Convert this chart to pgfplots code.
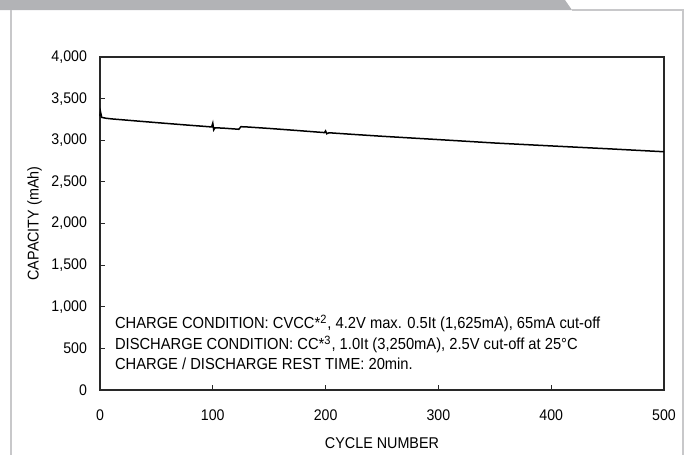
\documentclass[border=0pt]{standalone}
\usepackage{pgfplots}
\pgfplotsset{compat=1.18}
\usepackage{fontspec}
\setmainfont{Liberation Sans}[FakeStretch=0.92]
\definecolor{tabgray}{RGB}{178,179,182}
\definecolor{framegray}{RGB}{200,200,202}
\definecolor{axisdark}{RGB}{40,40,40}
\begin{document}
\begin{tikzpicture}
  % page frame, in reference pixels (0.5pt each), y measured from the bottom
  \begin{scope}[x=0.5pt,y=0.5pt]
    \useasboundingbox (0,0) rectangle (687,455);
    \fill[tabgray] (0,455) -- (565,455) -- (572,445) -- (0,445) -- cycle;
    \draw[framegray, line width=0.75pt] (11,445) -- (11,0);
    \draw[framegray, line width=0.75pt] (572,445) -- (683,445) -- (683,0);
  \end{scope}

  \begin{axis}[
      at={(50pt,32.5pt)}, anchor=south west,
      scale only axis,
      width=282pt, height=166.5pt,
      xmin=0, xmax=500, ymin=0, ymax=4000,
      xtick={0,100,...,500},
      ytick={0,500,...,4000},
      axis line style={axisdark, line width=1pt},
      tick style={axisdark, line width=0.6pt},
      major tick length=2.5pt,
      tick align=inside,
      xtick pos=bottom, ytick pos=left,
      xticklabel style={font=\fontsize{7.7}{9}\selectfont, yshift=-6.5pt},
      yticklabel style={font=\fontsize{7.7}{9}\selectfont, xshift=-3pt},
      /pgf/number format/assume math mode=true,
      /pgf/number format/1000 sep={,},
      xlabel={CYCLE NUMBER},
      ylabel={CAPACITY (mAh)},
      label style={font=\fontsize{7.8}{9}\selectfont},
      xlabel style={yshift=-1.5pt},
      ylabel style={yshift=-2pt},
      clip=false,
    ]
    \addplot[black, line width=0.75pt] coordinates {
        (0,3290) (0.5,3340) (1.5,3275) (5,3265) (10,3257) (25,3240)
        (50,3212) (75,3185) (99,3160) (100,3205) (100.8,3125) (102,3150)
        (110,3145) (123,3132) (125,3163) (130,3160) (150,3142) (175,3117)
        (199,3092) (200,3112) (201,3078) (203,3090) (225,3070) (250,3048)
        (300,3008) (350,2967) (400,2932) (450,2898) (500,2862)
      };
    \node[anchor=west, font=\fontsize{8.0}{9}\selectfont, inner sep=0pt]
      at (rel axis cs:0.026,0.200) {CHARGE CONDITION: CVCC*\textsuperscript{2}, 4.2V max. 0.5It (1,625mA), 65mA cut-off};
    \node[anchor=west, font=\fontsize{8.0}{9}\selectfont, inner sep=0pt]
      at (rel axis cs:0.026,0.137) {DISCHARGE CONDITION: CC*\textsuperscript{3}, 1.0It (3,250mA), 2.5V cut-off at 25°C};
    \node[anchor=west, font=\fontsize{8.0}{9}\selectfont, inner sep=0pt]
      at (rel axis cs:0.026,0.078) {CHARGE / DISCHARGE REST TIME: 20min.};
  \end{axis}
\end{tikzpicture}
\end{document}
